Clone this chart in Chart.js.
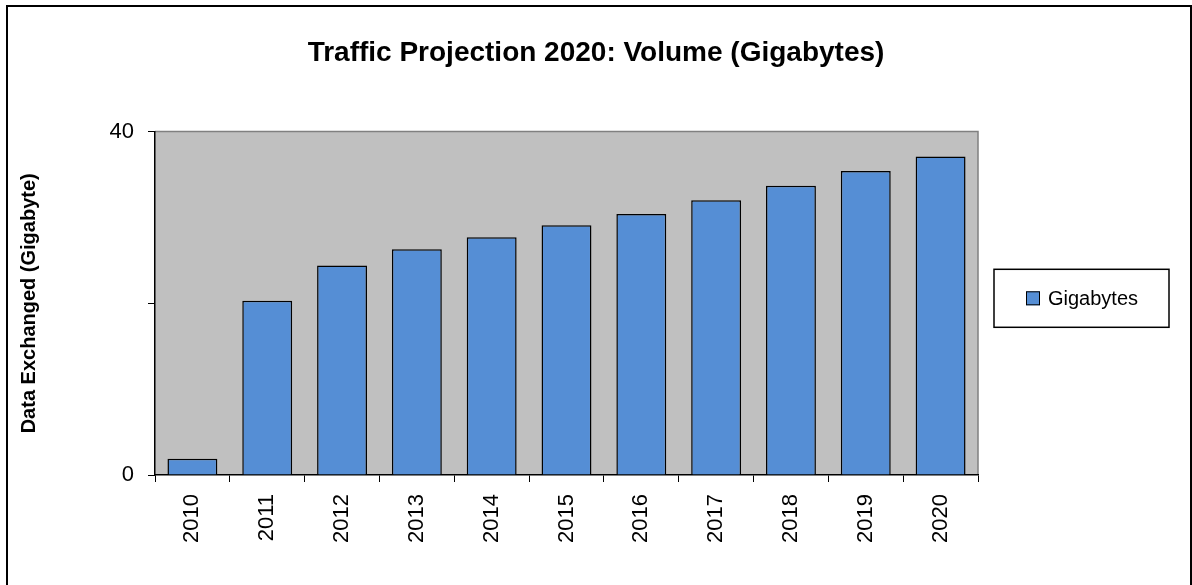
<!DOCTYPE html>
<html>
<head>
<meta charset="utf-8">
<title>Traffic Projection 2020</title>
<script src="https://cdn.jsdelivr.net/npm/chart.js@4"></script>
<style>
  html, body { margin: 0; padding: 0; background: #fff; }
  canvas { display: block; }
</style>
</head>
<body>
<canvas id="trafficChart" width="1192" height="585"></canvas>
<script>
const years = ["2010", "2011", "2012", "2013", "2014", "2015", "2016", "2017", "2018", "2019", "2020"];
const gigabytes = [1.9, 20.3, 24.4, 26.3, 27.7, 29.1, 30.4, 32.0, 33.7, 35.4, 37.1];
const yTicks = [0, 20, 40];
const yLabelled = [0, 40];

const FONT = "'Liberation Sans', Arial, sans-serif";

// grey plot area, outer frame and the boxed legend
const frame = {
  id: "frame",
  beforeDraw(chart) {
    const { ctx, chartArea: a } = chart;
    ctx.save();
    ctx.fillStyle = "#fff";
    ctx.fillRect(0, 0, chart.width, chart.height);
    ctx.strokeStyle = "#000";
    ctx.lineWidth = 2;
    ctx.strokeRect(7, 6, 1184, 600);
    ctx.fillStyle = "#c0c0c0";
    ctx.fillRect(a.left, a.top, a.right - a.left, a.bottom - a.top);
    ctx.strokeStyle = "#808080";
    ctx.lineWidth = 1.5;
    ctx.beginPath();
    ctx.moveTo(a.left, a.top);
    ctx.lineTo(a.right, a.top);
    ctx.lineTo(a.right, a.bottom);
    ctx.stroke();
    ctx.restore();
  },
  afterDraw(chart) {
    const { ctx, chartArea: a } = chart;
    const ds = chart.data.datasets[0];
    const x = a.right + 16;
    const mid = (a.top + a.bottom) / 2 - 5;
    ctx.save();
    ctx.fillStyle = "#fff";
    ctx.fillRect(x, mid - 29, 175, 58);
    ctx.strokeStyle = "#000";
    ctx.lineWidth = 1.5;
    ctx.strokeRect(x, mid - 29, 175, 58);
    ctx.fillStyle = ds.backgroundColor;
    ctx.fillRect(x + 32, mid - 7, 14, 14);
    ctx.lineWidth = 1;
    ctx.strokeRect(x + 32.5, mid - 6.5, 13, 13);
    ctx.fillStyle = "#000";
    ctx.font = "20px " + FONT;
    ctx.textBaseline = "middle";
    ctx.fillText(ds.label, x + 54, mid + 1);
    ctx.restore();
  },
};

const ctx = document.getElementById("trafficChart").getContext("2d");
new Chart(ctx, {
  type: "bar",
  data: {
    labels: years,
    datasets: [
      {
        label: "Gigabytes",
        data: gigabytes,
        backgroundColor: "#558ed5",
        borderColor: "#000",
        borderWidth: 1.5,
        barPercentage: 0.667,
        categoryPercentage: 1,
      },
    ],
  },
  options: {
    responsive: false,
    animation: false,
    devicePixelRatio: 1,
    layout: { padding: 0 },
    plugins: {
      legend: { display: false },
      tooltip: { enabled: false },
      title: {
        display: true,
        text: "Traffic Projection 2020: Volume (Gigabytes)",
        color: "#000",
        font: { family: FONT, size: 28, weight: "bold", lineHeight: 1.2 },
        padding: { top: 36, bottom: 62 },
      },
    },
    scales: {
      x: {
        offset: true,
        grid: { offset: true, drawOnChartArea: false, color: "#000", tickLength: 7, lineWidth: 1 },
        border: { color: "#000", width: 1.5 },
        ticks: {
          color: "#000",
          font: { family: FONT, size: 22 },
          minRotation: 90,
          maxRotation: 90,
          padding: 12,
        },
        afterFit(scale) {
          scale.height = 110;
        },
      },
      y: {
        min: 0,
        max: 40,
        afterBuildTicks(scale) {
          scale.ticks = yTicks.map((v) => ({ value: v }));
        },
        grid: { drawOnChartArea: false, color: "#000", tickLength: 7, lineWidth: 1 },
        border: { color: "#000", width: 1.5 },
        ticks: {
          color: "#000",
          font: { family: FONT, size: 22 },
          padding: 14,
          callback: (v) => (yLabelled.includes(v) ? v : ""),
        },
        title: {
          display: true,
          text: "Data Exchanged (Gigabyte)",
          color: "#000",
          font: { family: FONT, size: 20, weight: "bold", lineHeight: 1.2 },
          padding: { top: 17 },
        },
        afterFit(scale) {
          scale.width = 155;
        },
      },
      // empty right-hand box that reserves room for the legend
      legendSpace: {
        type: "linear",
        position: "right",
        grid: { display: false },
        border: { display: false },
        ticks: { display: false },
        afterFit(scale) {
          scale.width = 214;
        },
      },
    },
  },
  plugins: [frame],
});
</script>
</body>
</html>
